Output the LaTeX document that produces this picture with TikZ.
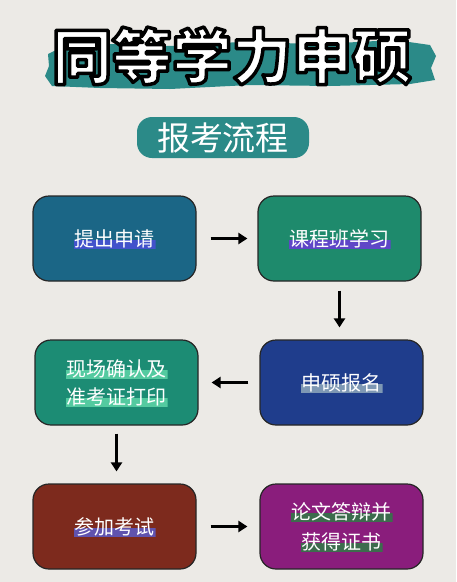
\documentclass[tikz,border=0pt]{standalone}
\usepackage{fontspec}
\newfontfamily\cjk{Noto Sans CJK SC}
\newfontfamily\cjkheavy{Noto Sans CJK SC Black}
\usetikzlibrary{positioning,arrows.meta,calc}

\definecolor{paper}{HTML}{ECEAE6}
\definecolor{teal1}{HTML}{2B8A88}
\definecolor{boxA}{HTML}{1B6686}
\definecolor{boxB}{HTML}{1E8A6C}
\definecolor{boxC}{HTML}{1F3D8C}
\definecolor{boxD}{HTML}{1C8C74}
\definecolor{boxE}{HTML}{7D2A1D}
\definecolor{boxF}{HTML}{8A1D7C}
\definecolor{hlA}{HTML}{4A4FD8}
\definecolor{hlB}{HTML}{6B3BD8}
\definecolor{hlC}{HTML}{8FA8BC}
\definecolor{hlD}{HTML}{5ED6A8}
\definecolor{hlE}{HTML}{5B5BC8}
\definecolor{hlF}{HTML}{2F7A45}

% white letters with a black rim
\newcommand\rimtext[1]{\special{pdf:literal direct 2 Tr 3.5 w 0 G 1 j}#1\special{pdf:literal direct 0 Tr}}

\begin{document}
\begin{tikzpicture}[
  x=1pt, y=-1pt,
  font=\cjk,
  stepbox/.style={draw=black!85, line width=1.2pt, rounded corners=16pt,
                  minimum width=163pt, minimum height=85pt},
  lbl/.style={text=white, font=\cjk\fontsize{20}{20}\selectfont, inner sep=1pt},
  hl/.style={path picture={\fill[#1, opacity=.85]
               ([yshift=-1pt]path picture bounding box.west) rectangle
               ([xshift=3pt]path picture bounding box.south east);}},
  title/.style={font=\cjkheavy\fontsize{60}{60}\selectfont, inner sep=0pt},
  flow/.style={-{Triangle[length=9pt,width=11pt]}, line width=3.2pt, black},
]
  \useasboundingbox (0,0) rectangle (456,582);
  \fill[paper] (0,0) rectangle (456,582);

  % heading
  \fill[teal1] (48,54) -- (62,47) -- (110,44) -- (170,46) -- (240,42) -- (320,44)
    -- (395,40) -- (430,45) -- (436,56) -- (431,68) -- (435,80) -- (410,84)
    -- (330,86) -- (250,85) -- (170,89) -- (100,88) -- (52,86) -- (45,76)
    -- (49,66) -- cycle;
  \node[title, text=white] (headtxt) at (232,56) {\rimtext{同等学力申硕}};

  \node[fill=teal1, rounded corners=15pt, minimum width=172pt, minimum height=41pt,
        text=white, font=\cjk\fontsize{33}{33}\selectfont] (sub) at (223,137.5) {报考流程};

  % steps
  \node[stepbox, fill=boxA] (b1) at (114.5,238.5) {};
  \node[stepbox, fill=boxB] (b2) at (339.5,238.5) {};
  \node[stepbox, fill=boxC] (b3) at (341.5,382.5) {};
  \node[stepbox, fill=boxD] (b4) at (116.5,382.5) {};
  \node[stepbox, fill=boxE] (b5) at (114.5,526.5) {};
  \node[stepbox, fill=boxF] (b6) at (341.5,526.5) {};

  \node[lbl, hl=hlA] (t1) at (b1) {提出申请};
  \node[lbl, hl=hlB] (t2) at (b2) {课程班学习};
  \node[lbl, hl=hlC] (t3) at (b3) {申硕报名};
  \node[lbl, hl=hlD] (t4a) at ($(b4)+(0,-14)$) {现场确认及};
  \node[lbl, hl=hlD] (t4b) at ($(b4)+(0,14)$) {准考证打印};
  \node[lbl, hl=hlE] (t5) at (b5) {参加考试};
  \node[lbl, hl=hlF] (t6a) at ($(b6)+(0,-15)$) {论文答辩并};
  \node[lbl, hl=hlF] (t6b) at ($(b6)+(0,15)$) {获得证书};

  \draw[flow, shorten <=14pt, shorten >=10pt] (b1) -- (b2);
  \draw[flow, shorten <=9pt, shorten >=12pt] (b2.south) -- (b2.south |- b3.north);
  \draw[flow, shorten <=11pt, shorten >=13pt] (b3) -- (b4);
  \draw[flow, shorten <=8pt, shorten >=12pt] (b4.south) -- (b4.south |- b5.north);
  \draw[flow, shorten <=14pt, shorten >=12pt] (b5) -- (b6);
\end{tikzpicture}
\end{document}
